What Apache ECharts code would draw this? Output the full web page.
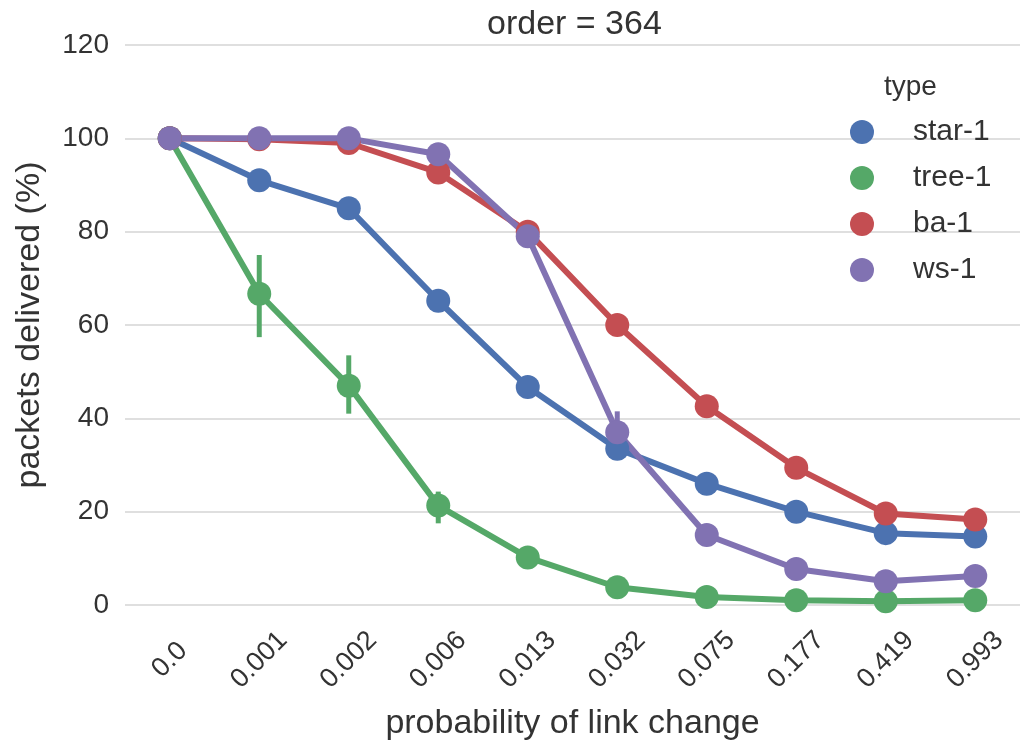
<!DOCTYPE html>
<html>
<head>
<meta charset="utf-8">
<script src="https://cdn.jsdelivr.net/npm/echarts@6/dist/echarts.min.js"></script>
<style>html,body{margin:0;padding:0;background:#fff}#c{width:1020px;height:746px}</style>
</head>
<body>
<div id="c"></div>
<script>
const categories = ['0.0','0.001','0.002','0.006','0.013','0.032','0.075','0.177','0.419','0.993'];
const yTicks = [0, 20, 40, 60, 80, 100, 120];
const seriesNames = ['star-1','tree-1','ba-1','ws-1'];
const star1 = [100, 91, 85, 65.2, 46.7, 33.5, 26, 20, 15.4, 14.7];
const tree1 = [100, 66.7, 47, 21.3, 10.2, 3.8, 1.7, 1.0, 0.8, 1.0];
const ba1   = [100, 99.8, 99, 92.7, 80, 60, 42.6, 29.4, 19.6, 18.3];
const ws1   = [100, 100, 100, 96.6, 79, 37, 15, 7.7, 5.1, 6.2];
// error bars: [category index, low, high]
const treeErr = [[1, 57.4, 75], [2, 41, 53.5], [3, 17.5, 24.3]];
const wsErr = [[5, 32.6, 41.5]];
const colors = ['#4C72B0', '#55A868', '#C44E52', '#8172B2'];

const chart = echarts.init(document.getElementById('c'));
const font = 'Liberation Sans, Arial, sans-serif';
const textColor = '#333';

function lineSeries(name, data, color) {
  return {
    name: name, type: 'line', data: data,
    symbol: 'circle', symbolSize: 24,
    lineStyle: {width: 6, color: color},
    itemStyle: {color: color},
    animation: false
  };
}
function errSeries(name, data, color) {
  return {
    name: name, type: 'custom', data: data,
    itemStyle: {color: color},
    renderItem: function (params, api) {
      const p1 = api.coord([api.value(0), api.value(1)]);
      const p2 = api.coord([api.value(0), api.value(2)]);
      return {type: 'line', shape: {x1: p1[0], y1: p1[1], x2: p2[0], y2: p2[1]},
        style: {stroke: color, lineWidth: 5}};
    },
    encode: {x: 0, y: [1, 2]},
    animation: false, silent: true
  };
}

chart.setOption({
  backgroundColor: '#fff',
  color: colors,
  textStyle: {fontFamily: font, color: textColor},
  title: [
    {text: 'order = 364', left: 482, top: 3, textStyle: {fontSize: 34, fontWeight: 'normal', color: textColor, fontFamily: font}},
    {text: 'type', left: 879, top: 68, textStyle: {fontSize: 28, fontWeight: 'normal', color: textColor, fontFamily: font}}
  ],
  legend: {
    data: seriesNames,
    orient: 'vertical', left: 845, top: 112,
    icon: 'circle', itemWidth: 24, itemHeight: 24, itemGap: 16,
    textStyle: {fontSize: 30, color: textColor, fontFamily: font, lineHeight: 30, padding: [0, 0, 0, 34]}
  },
  grid: {left: 125, right: 0, top: 45, bottom: 138},
  xAxis: {
    type: 'category', data: categories, boundaryGap: true,
    axisLine: {show: false}, axisTick: {show: false},
    axisLabel: {rotate: 45, interval: 0, fontSize: 27, color: textColor, margin: 55, align: 'center', verticalAlign: 'middle', fontFamily: font},
    name: 'probability of link change', nameLocation: 'middle', nameGap: 102,
    nameTextStyle: {fontSize: 34, color: textColor, fontFamily: font}
  },
  yAxis: {
    type: 'value', min: yTicks[0], max: yTicks[yTicks.length - 1], interval: yTicks[1] - yTicks[0],
    axisLine: {show: false}, axisTick: {show: false},
    axisLabel: {fontSize: 28, color: textColor, margin: 16, fontFamily: font},
    splitLine: {lineStyle: {color: '#d4d4d4', width: 1.5}},
    name: 'packets delivered (%)', nameLocation: 'middle', nameGap: 78,
    nameTextStyle: {fontSize: 34, color: textColor, fontFamily: font}
  },
  series: [
    lineSeries(seriesNames[0], star1, colors[0]),
    errSeries(seriesNames[1], treeErr, colors[1]),
    lineSeries(seriesNames[1], tree1, colors[1]),
    lineSeries(seriesNames[2], ba1, colors[2]),
    errSeries(seriesNames[3], wsErr, colors[3]),
    lineSeries(seriesNames[3], ws1, colors[3])
  ]
});
</script>
</body>
</html>
